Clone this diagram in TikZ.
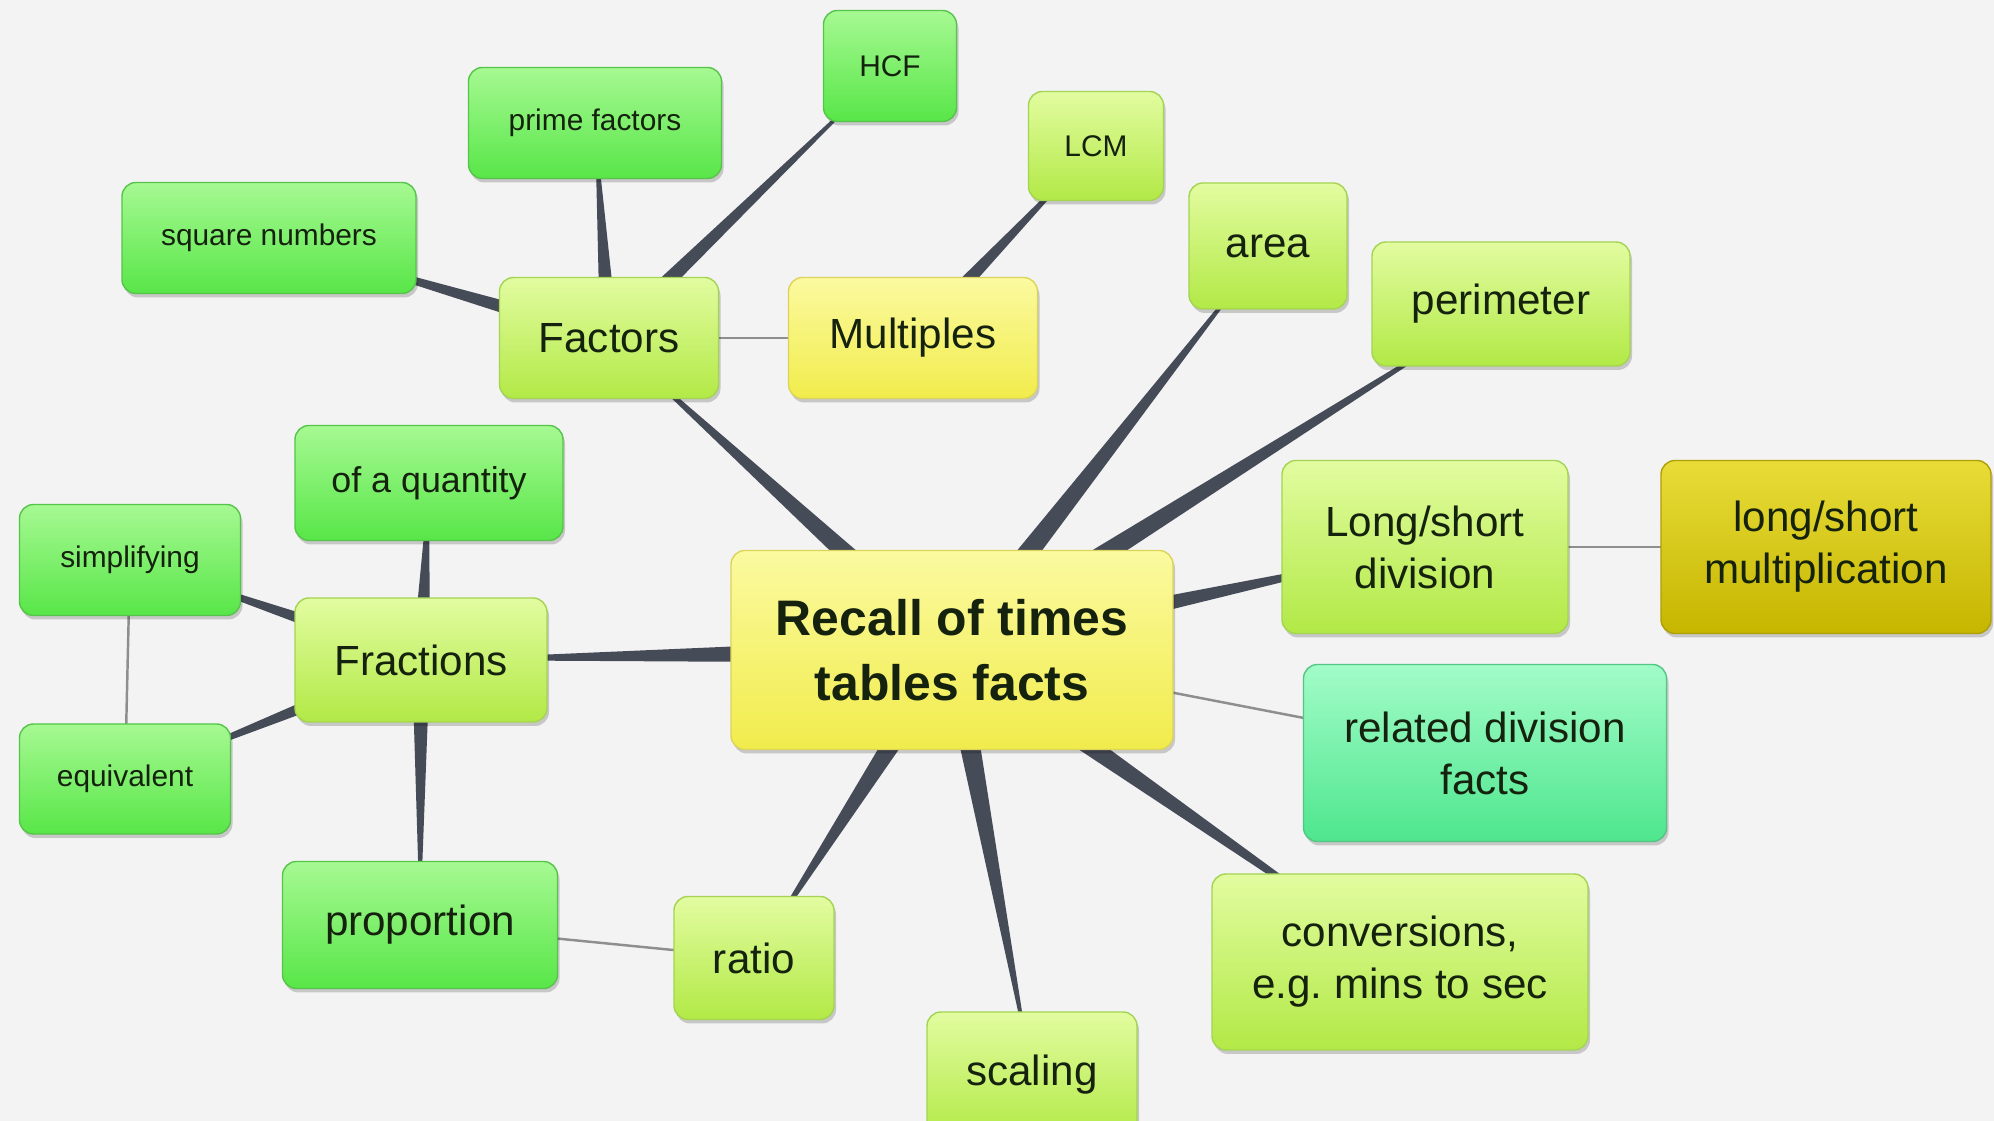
\documentclass[tikz,border=0pt]{standalone}
\usepackage{fontspec}
\setmainfont{Liberation Sans}
\usetikzlibrary{calc,backgrounds,shadows}

\definecolor{bgcol}{HTML}{F3F3F3}
\definecolor{txtcol}{HTML}{15220E}
\definecolor{wedgecol}{HTML}{464B58}
\definecolor{thincol}{HTML}{8E8E8E}
\definecolor{yeltop}{HTML}{FBFAA0}
\definecolor{yelbot}{HTML}{F1EC4C}
\definecolor{yeledge}{HTML}{DCD45A}
\definecolor{limetop}{HTML}{E2FCA0}
\definecolor{limebot}{HTML}{B2E946}
\definecolor{limeedge}{HTML}{A4D452}
\definecolor{grntop}{HTML}{A6F992}
\definecolor{grnbot}{HTML}{58E648}
\definecolor{grnedge}{HTML}{56C44A}
\definecolor{aquatop}{HTML}{A2FCC8}
\definecolor{aquabot}{HTML}{4EE68E}
\definecolor{aquaedge}{HTML}{52C682}
\definecolor{olivetop}{HTML}{E8DC38}
\definecolor{olivebot}{HTML}{C6B600}
\definecolor{oliveedge}{HTML}{AE9E08}

\tikzset{
  box/.style={rounded corners=0.14cm, align=center, text=txtcol, inner sep=2pt,
    drop shadow={shadow xshift=0.02cm, shadow yshift=-0.04cm, opacity=0.18, fill=black}},
  bigtext/.style={box, font=\fontsize{14.2}{18.5}\selectfont\bfseries},
  midtext/.style={box, font=\fontsize{12}{14.8}\selectfont},
  qtytext/.style={box, font=\fontsize{10.2}{12}\selectfont},
  smalltext/.style={box, font=\fontsize{8.5}{10}\selectfont},
  yelbox/.style={top color=yeltop, bottom color=yelbot, draw=yeledge},
  limebox/.style={top color=limetop, bottom color=limebot, draw=limeedge},
  grnbox/.style={top color=grntop, bottom color=grnbot, draw=grnedge},
  aquabox/.style={top color=aquatop, bottom color=aquabot, draw=aquaedge},
  olivebox/.style={top color=olivetop, bottom color=olivebot, draw=oliveedge},
  sz/.style 2 args={minimum width=#1cm, minimum height=#2cm},
  thinlink/.style={draw=thincol, line width=0.7pt}
}

% tapered link: thick at the parent, thin at the child
\newcommand{\wedgelink}[3][0.09]{%
  \fill[wedgecol] ($(#2.center)!#1cm!90:(#3.center)$) -- ($(#2.center)!#1cm!-90:(#3.center)$) -- (#3.center) -- cycle;}

\begin{document}
\begin{tikzpicture}
  \useasboundingbox (0,0) rectangle (19.94,-11.21);

  % main topic
  \node [bigtext, yelbox, sz={4.42}{1.99}] (recall) at (9.52,-6.50) {Recall of times\\tables facts};

  % factors and multiples
  \node [midtext, limebox, sz={2.19}{1.21}] (factors) at (6.09,-3.38) {Factors};
  \node [midtext, yelbox, sz={2.49}{1.21}] (multiples) at (9.13,-3.38) {Multiples};
  \node [smalltext, grnbox, sz={1.33}{1.11}] (hcf) at (8.90,-0.66) {HCF};
  \node [smalltext, grnbox, sz={2.53}{1.11}] (prime) at (5.95,-1.23) {prime factors};
  \node [smalltext, grnbox, sz={2.94}{1.11}] (square) at (2.69,-2.38) {square numbers};
  \node [smalltext, limebox, sz={1.35}{1.09}] (lcm) at (10.96,-1.46) {LCM};

  % right side
  \node [midtext, limebox, sz={1.58}{1.26}] (area) at (12.68,-2.46) {area};
  \node [midtext, limebox, sz={2.58}{1.24}] (perimeter) at (15.01,-3.04) {perimeter};
  \node [midtext, limebox, sz={2.86}{1.73}] (longdiv) at (14.25,-5.47) {Long/short\\division};
  \node [midtext, olivebox, sz={3.30}{1.73}] (longmult) at (18.26,-5.47) {long/short\\multiplication};
  \node [midtext, aquabox, sz={3.63}{1.77}] (related) at (14.85,-7.53) {related division\\facts};
  \node [midtext, limebox, sz={3.76}{1.76}] (conversions) at (14.00,-9.62) {conversions,\\e.g.\ mins to sec};

  % bottom
  \node [midtext, limebox, sz={2.10}{1.26}] (scaling) at (10.32,-10.75) {scaling};
  \node [midtext, limebox, sz={1.60}{1.23}] (ratio) at (7.54,-9.58) {ratio};
  \node [midtext, grnbox, sz={2.75}{1.27}] (proportion) at (4.20,-9.25) {proportion};

  % fractions
  \node [midtext, limebox, sz={2.52}{1.24}] (fractions) at (4.21,-6.60) {Fractions};
  \node [qtytext, grnbox, sz={2.68}{1.15}] (quantity) at (4.29,-4.83) {of a quantity};
  \node [smalltext, grnbox, sz={2.21}{1.11}] (simplifying) at (1.30,-5.60) {simplifying};
  \node [smalltext, grnbox, sz={2.11}{1.10}] (equivalent) at (1.25,-7.79) {equivalent};

  \begin{scope}[on background layer]
    \fill [bgcol] (0,0) rectangle (19.94,-11.21);

    \foreach \child in {factors, area, perimeter, longdiv, conversions, scaling, ratio, fractions}
      \wedgelink[0.13]{recall}{\child};
    \draw [thinlink] (recall.center) -- (related.center);

    \foreach \child in {square, prime, hcf}
      \wedgelink{factors}{\child};
    \wedgelink{multiples}{lcm};
    \draw [thinlink] (factors.center) -- (multiples.center);

    \foreach \child in {quantity, simplifying, equivalent, proportion}
      \wedgelink{fractions}{\child};
    \draw [thinlink] (simplifying.center) -- (equivalent.center);
    \draw [thinlink] (proportion.center) -- (ratio.center);
    \draw [thinlink] (longdiv.center) -- (longmult.center);
  \end{scope}
\end{tikzpicture}
\end{document}
